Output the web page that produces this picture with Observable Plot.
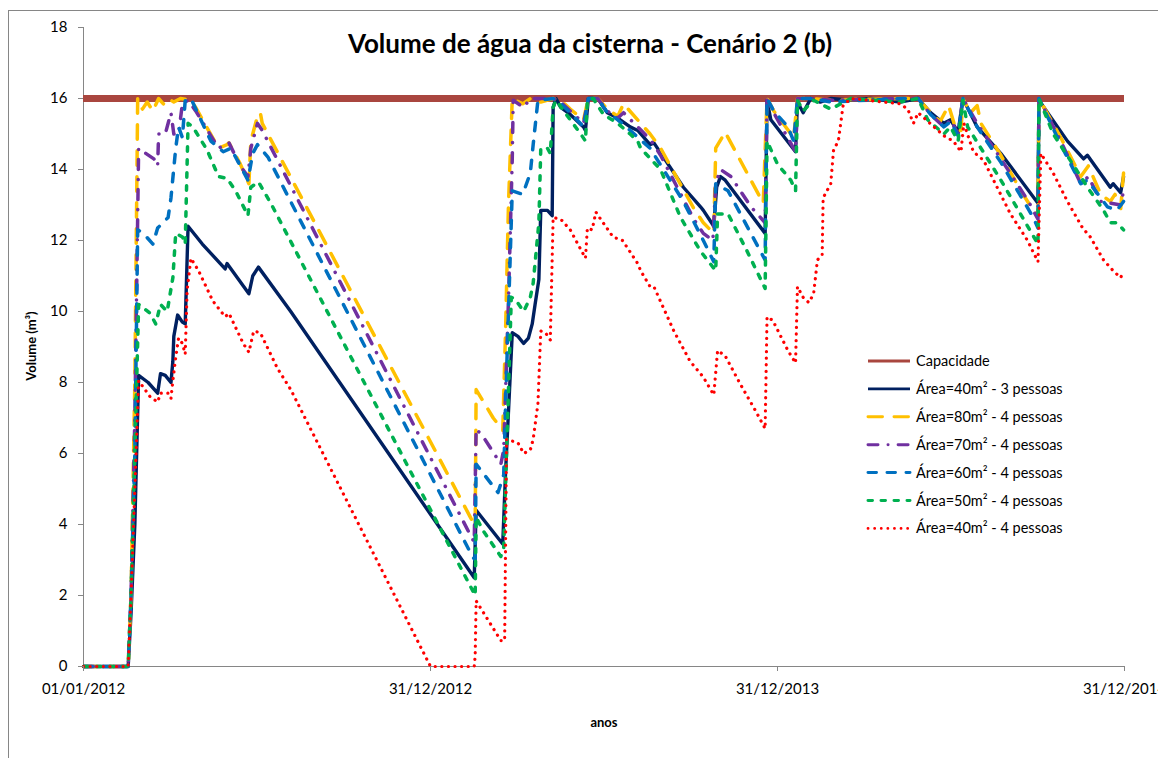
<!DOCTYPE html>
<html>
<head>
<meta charset="utf-8">
<script src="https://cdn.jsdelivr.net/npm/d3@7"></script>
<script src="https://cdn.jsdelivr.net/npm/@observablehq/plot@0.6"></script>
<style>
  html, body { margin: 0; padding: 0; width: 1158px; height: 758px; overflow: hidden; background: #fff; }
  #wrap { position: relative; width: 1158px; height: 758px; }
  #frame { position: absolute; left: 8px; top: 10px; width: 1300px; height: 900px; border: 1px solid #868686; box-sizing: border-box; }
  #chart, #overlay { position: absolute; left: 0; top: 0; }
  #overlay { pointer-events: none; }
</style>
</head>
<body>
<div id="wrap">
  <div id="frame"></div>
  <div id="chart"></div>
  <svg id="overlay" width="1158" height="758"></svg>
</div>
<script>
// ---------------- DATA (day offset from 01/01/2012, volume m³) ----------------
const titleText = "Volume de água da cisterna - Cenário 2 (b)";
const yLabel = "Volume (m³)";
const xLabel = "anos";
const capacidade = 16;

const xTickDays = [0, 365, 730, 1095];
const xTickLabels = ["01/01/2012", "31/12/2012", "31/12/2013", "31/12/2014"];
const yTickValues = [0, 2, 4, 6, 8, 10, 12, 14, 16, 18];

const seriesNames = [
  "Capacidade",
  "Área=40m² - 3 pessoas",
  "Área=80m² - 4 pessoas",
  "Área=70m² - 4 pessoas",
  "Área=60m² - 4 pessoas",
  "Área=50m² - 4 pessoas",
  "Área=40m² - 4 pessoas"
];

const area40p3 = [[0,0],[47,0],[50,1.5],[54,4],[58,8.2],[68,8.0],[78,7.7],[81,8.25],[86,8.2],[92,8.0],[94,8.6],[95,9.3],[99,9.9],[104,9.7],[107,9.65],[110,12.4],[125,11.9],[149,11.2],[151,11.35],[174,10.5],[178,11.0],[184,11.25],[218,10.0],[411,2.5],[413,4.4],[441,3.45],[444,5.5],[451,9.4],[457,9.3],[463,9.1],[468,9.25],[472,9.65],[475,10.2],[479,10.9],[481,12.85],[488,12.85],[493,12.7],[494,15.75],[497,16],[502,15.75],[512,15.55],[526,15.2],[528,15.1],[531,16],[541,16],[551,15.6],[562,15.45],[575,15.2],[583,15.1],[596,14.7],[600,14.75],[610,14.35],[631,13.5],[649,12.95],[652,12.85],[663,12.4],[666,13.5],[670,13.8],[675,13.7],[717,12.2],[719,15.95],[723,15.4],[749,14.5],[751,15.9],[757,15.6],[765,16],[775,15.9],[786,16],[807,15.95],[828,16],[859,15.9],[878,16],[891,15.6],[898,15.45],[905,15.3],[912,15.4],[920,15.05],[925,16],[940,15.2],[965,14.45],[1004,13.05],[1005,15.95],[1035,14.8],[1052,14.3],[1056,14.4],[1080,13.5],[1083,13.6],[1091,13.35],[1094,13.8]];

const area80p4 = [[0,0],[47,0],[50,2],[54,8],[57,16],[62,15.7],[67,15.9],[73,15.65],[79,16],[84,15.85],[89,16],[95,15.9],[102,16],[113,15.95],[118,15.75],[142,14.6],[151,14.7],[153,14.75],[165,14.15],[174,13.6],[176,14.8],[183,15.5],[186,15.6],[188,15.3],[407,4.2],[412,3.95],[413,7.8],[431,7.0],[441,6.65],[444,9.5],[447,13],[451,16],[462,15.85],[470,16],[481,15.9],[494,16],[502,15.95],[512,15.7],[526,15.4],[531,16],[541,16],[551,15.7],[562,15.5],[568,15.85],[596,15.0],[607,14.6],[642,12.9],[652,12.5],[663,12.2],[665,14.6],[675,15.05],[715,13.05],[719,16],[726,15.65],[747,14.9],[751,16],[765,16],[786,15.95],[859,16],[878,16],[891,15.6],[901,15.35],[910,15.8],[918,15.1],[923,15.1],[925,16],[933,15.6],[940,15.8],[944,15.3],[965,14.4],[986,13.4],[999,12.85],[1004,12.7],[1005,16],[1028,14.9],[1049,13.8],[1057,14.1],[1070,13.3],[1080,13.1],[1085,13.3],[1091,12.9],[1094,13.9]];

const area70p4 = [[0,0],[47,0],[50,2],[54,7],[58,14.6],[63,14.5],[74,14.3],[78,14.1],[79,15.0],[86,15.0],[92,15.6],[95,15.0],[100,15.0],[104,15.85],[110,15.95],[118,15.65],[142,14.6],[153,14.75],[165,14.1],[173,13.8],[176,14.6],[183,15.3],[188,15.1],[405,3.8],[411,3.5],[413,6.7],[421,6.45],[439,5.7],[442,6.1],[447,10.3],[451,14.3],[452,15.95],[463,15.75],[470,16],[494,16],[502,15.9],[512,15.65],[526,15.3],[531,16],[541,16],[551,15.65],[562,15.45],[568,15.6],[596,14.85],[607,14.4],[642,12.6],[652,12.2],[662,12.0],[665,13.6],[670,14.0],[681,13.8],[702,12.95],[717,12.5],[719,16],[726,15.6],[749,14.5],[751,16],[765,16],[786,15.95],[859,16],[878,16],[891,15.55],[905,15.2],[912,15.4],[920,15.0],[925,16],[940,15.3],[965,14.3],[994,13.1],[1001,12.75],[1004,12.6],[1005,16],[1028,14.8],[1049,13.6],[1057,13.8],[1070,13.1],[1091,13.0],[1094,13.4]];

const area60p4 = [[0,0],[47,0],[50,2],[54,6],[57,12.3],[63,12.2],[73,11.9],[78,12.35],[89,12.65],[92,13.2],[97,14.6],[100,15.2],[104,14.9],[107,15.95],[113,16],[120,15.6],[134,14.8],[147,14.5],[155,14.6],[173,13.7],[178,14.45],[183,14.7],[194,14.35],[409,3.1],[412,3.0],[413,5.7],[436,4.9],[442,5.4],[444,7.4],[451,13.4],[462,13.3],[470,13.9],[473,14.7],[478,15.95],[494,16],[502,15.85],[512,15.6],[526,15.2],[531,16],[541,16],[551,15.6],[562,15.4],[575,15.1],[596,14.6],[610,14.0],[631,13.1],[652,12.0],[663,11.4],[665,13.6],[678,13.4],[717,11.45],[719,16],[726,15.65],[741,15.2],[747,14.8],[751,16],[765,16],[786,15.9],[859,16],[878,16],[891,15.55],[905,15.2],[912,15.35],[920,14.95],[925,16],[940,15.2],[965,14.2],[999,12.65],[1004,12.35],[1005,16],[1028,14.7],[1049,13.6],[1056,13.7],[1077,12.95],[1087,12.85],[1094,13.1]];

const area50p4 = [[0,0],[47,0],[50,2],[54,6],[58,10.2],[63,10.1],[70,9.95],[76,9.65],[81,10.2],[88,10.0],[94,10.95],[97,12.2],[104,12.1],[107,11.9],[110,15.3],[115,15.2],[130,14.55],[142,13.8],[151,13.75],[160,13.4],[173,12.7],[176,13.5],[184,13.65],[197,13.05],[412,2.0],[413,4.2],[421,3.8],[439,3.1],[442,3.35],[450,10.4],[454,10.35],[463,10.0],[470,10.4],[473,10.8],[479,12.5],[481,14.6],[488,14.6],[491,14.45],[494,15.75],[497,15.95],[512,15.4],[523,15.0],[528,14.8],[530,15.95],[536,16],[547,15.55],[562,15.3],[575,15.0],[583,14.8],[586,14.6],[607,14.0],[628,12.65],[649,11.7],[665,11.15],[667,12.75],[678,12.75],[698,11.7],[717,10.65],[719,14.8],[730,14.15],[744,13.7],[749,13.4],[751,15.95],[757,15.65],[768,15.95],[786,15.7],[807,16],[859,15.9],[878,16],[888,15.4],[905,15.0],[912,15.2],[920,14.8],[925,15.95],[930,15.2],[965,13.7],[1004,11.9],[1005,16],[1020,15.0],[1049,13.8],[1056,13.5],[1073,12.85],[1080,12.5],[1087,12.5],[1094,12.3]];

const area40p4 = [[0,0],[47,0],[50,2],[54,5],[58,8.05],[62,7.9],[70,7.6],[78,7.45],[81,7.7],[89,7.7],[92,7.55],[94,8.05],[97,8.7],[100,9.25],[104,9.1],[107,8.8],[109,10.6],[113,11.5],[121,11.15],[136,10.3],[149,9.85],[153,9.95],[168,9.1],[174,8.85],[179,9.45],[186,9.4],[204,8.4],[218,7.8],[365,0],[411,0],[412,0.3],[413,1.85],[439,0.73],[443,0.73],[445,6.4],[457,6.3],[463,6.0],[470,6.1],[473,6.4],[478,7.4],[481,9.45],[486,9.4],[491,9.2],[494,12.65],[502,12.6],[512,12.3],[528,11.5],[530,12.35],[535,12.3],[539,12.8],[544,12.6],[557,12.1],[567,12.0],[583,11.35],[586,11.15],[596,10.7],[600,10.7],[621,9.45],[638,8.6],[652,8.15],[663,7.65],[667,8.9],[675,8.75],[691,7.95],[707,7.2],[717,6.7],[719,9.85],[725,9.75],[741,8.9],[749,8.55],[751,10.7],[757,10.4],[763,10.25],[768,10.5],[772,11.45],[777,11.6],[778,13.2],[786,13.6],[789,14.55],[794,14.8],[799,15.8],[807,16],[859,15.85],[867,15.7],[873,15.3],[878,15.6],[905,14.95],[915,14.8],[923,14.5],[926,15.3],[936,14.5],[947,14.25],[961,13.5],[975,12.75],[993,12.0],[1004,11.4],[1007,14.45],[1020,13.9],[1035,13.1],[1051,12.35],[1059,12.1],[1073,11.45],[1083,11.15],[1091,10.95],[1094,11.15]];

// ---------------- STYLE ----------------
const seriesList = [
  {name: seriesNames[1], pts: area40p3, color: "#002060", dash: null,            width: 3.4},
  {name: seriesNames[2], pts: area80p4, color: "#FFC000", dash: "14.5,11.5",      width: 3.5},
  {name: seriesNames[3], pts: area70p4, color: "#7030A0", dash: "10,10,0.1,10",   width: 3.5},
  {name: seriesNames[4], pts: area60p4, color: "#0070C0", dash: "8.5,10.5",       width: 3.5},
  {name: seriesNames[5], pts: area50p4, color: "#00B050", dash: "4.5,8.5",        width: 3.5},
  {name: seriesNames[6], pts: area40p4, color: "#FF0000", dash: "0.1,6.5",        width: 3.2}
];
const capColor = "#A9463F";

const t0 = Date.UTC(2012, 0, 1);
const toDate = d => new Date(t0 + d * 864e5);
const xTickDates = xTickDays.map(toDate);

const lineMarks = seriesList.map(s =>
  Plot.line(s.pts.map(([d, v]) => ({date: toDate(d), v})), {
    x: "date", y: "v",
    stroke: s.color, strokeWidth: s.width,
    strokeDasharray: s.dash || undefined,
    strokeLinecap: "round", strokeLinejoin: "round"
  })
);

const chart = Plot.plot({
  width: 1158, height: 758,
  marginLeft: 83, marginRight: 34, marginTop: 27, marginBottom: 92,
  style: {fontFamily: "Lato, 'Open Sans', sans-serif", fontSize: "15px", background: "transparent", color: "#000"},
  x: {type: "utc", domain: [toDate(0), toDate(1095)]},
  y: {domain: [0, 18]},
  marks: [
    Plot.ruleX([toDate(0)], {stroke: "#868686", strokeWidth: 1}),
    Plot.ruleY([0], {stroke: "#868686", strokeWidth: 1}),
    Plot.ruleY([capacidade], {stroke: capColor, strokeWidth: 7}),
    ...lineMarks,
    Plot.axisY({ticks: yTickValues, tickSize: 5, tickPadding: 11, label: null, stroke: "#868686", fill: "#000", fontSize: 15}),
    Plot.axisX({ticks: xTickDates, tickSize: 5, tickPadding: 12, label: null, stroke: "#868686", fill: "#000", fontSize: 15,
      tickFormat: d => xTickLabels[xTickDates.findIndex(t => +t === +d)]})
  ]
});
document.getElementById("chart").appendChild(chart);

// ---------------- TITLE, AXIS LABELS, LEGEND ----------------
const ov = d3.select("#overlay").style("font-family", "Lato, 'Open Sans', sans-serif");
ov.append("text").attr("x", 590).attr("y", 53).attr("text-anchor", "middle")
  .attr("font-size", 26).attr("font-weight", "bold").text(titleText);
ov.append("text").attr("transform", "translate(36,346) rotate(-90)").attr("text-anchor", "middle")
  .attr("font-size", 13).attr("font-weight", "bold").text(yLabel);
ov.append("text").attr("x", 604).attr("y", 727).attr("text-anchor", "middle")
  .attr("font-size", 13).attr("font-weight", "bold").text(xLabel);

const legendItems = [{name: seriesNames[0], color: capColor, dash: null, width: 3}]
  .concat(seriesList.map(s => ({name: s.name, color: s.color, dash: s.dash, width: s.width * 0.85})));
const lg = ov.append("g");
legendItems.forEach((it, i) => {
  const y = 361 + i * 27.9;
  lg.append("line").attr("x1", 868).attr("x2", 910).attr("y1", y).attr("y2", y)
    .attr("stroke", it.color).attr("stroke-width", it.width)
    .attr("stroke-dasharray", it.dash || null).attr("stroke-linecap", it.dash ? "round" : "butt");
  lg.append("text").attr("x", 916).attr("y", y).attr("dy", "0.35em")
    .attr("font-size", 14.5).text(it.name);
});
</script>
</body>
</html>
